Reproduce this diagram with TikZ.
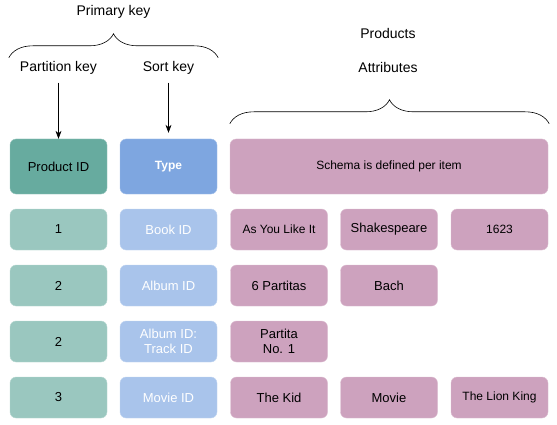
\documentclass[tikz,border=0pt]{standalone}
\usepackage{fontspec}
\setmainfont{Liberation Sans}
\usetikzlibrary{arrows.meta,calc,positioning,decorations.pathreplacing}

\definecolor{pkhead}{HTML}{67AB9F}
\definecolor{pkcell}{HTML}{9AC7BF}
\definecolor{skhead}{HTML}{7EA6E0}
\definecolor{skcell}{HTML}{A9C4EB}
\definecolor{attrcell}{HTML}{CDA2BE}

\begin{document}
\begin{tikzpicture}[
    x=1pt, y=-1pt,
    >=Stealth,
    cell/.style  = {rounded corners=6pt, minimum width=97pt, minimum height=41pt,
                    align=center, inner sep=2pt, font=\fontsize{13}{15}\selectfont},
    small/.style = {font=\fontsize{12}{14}\selectfont},
    pkhd/.style  = {cell, fill=pkhead, draw=pkhead!70!white, minimum height=55pt},
    pkrow/.style = {cell, fill=pkcell, draw=pkcell!70!white},
    skhd/.style  = {cell, fill=skhead, draw=skhead!70!white, minimum height=55pt,
                    text=white, font=\fontsize{12}{14}\selectfont\bfseries},
    skrow/.style = {cell, fill=skcell, draw=skcell!70!white, text=white},
    attr/.style  = {cell, fill=attrcell, draw=attrcell!70!white},
    lbl/.style   = {font=\fontsize{14}{17}\selectfont, inner sep=1pt},
    brc/.style   = {decorate, decoration={brace, amplitude=24pt}, semithick},
    keyarr/.style = {semithick, ->, >={Stealth[length=8pt,width=6pt]}}
  ]

  \useasboundingbox (0,0) rectangle (557,425);

  \coordinate (origin) at (0,0);

  % header row
  \node[pkhd] (PID) at ($(origin)+( 58.5,166.5)$) {Product ID};
  \node[skhd] (TYP) at ($(PID)+(110,0)$) {Type};
  \node[attr, small, minimum width=318pt, minimum height=55pt] (SCH) at ($(PID)+(330.5,0)$) {Schema is defined per item};

  % key columns
  \foreach \i/\p/\s in {1/1/{Book ID}, 2/2/{Album ID}, 3/2/{Album ID:\\Track ID}, 4/3/{Movie ID}} {
    \node[pkrow] (P\i) at ($(PID)+(0,{7+56*\i})$) {\p};
    \node[skrow] (T\i) at ($(TYP)+(0,{7+56*\i})$) {\s};
  }

  % attributes
  \node[attr, small] (A1a) at ($(T1)+(110.5,0)$) {As You Like It};
  \node[attr] (A1b) at ($(T1)+(220.5,0)$) {Shakespeare};
  \node[attr, small] (A1c) at ($(T1)+(331,0)$)   {1623};
  \node[attr] (A2a) at ($(T2)+(110.5,0)$) {6 Partitas};
  \node[attr] (A2b) at ($(T2)+(220.5,0)$) {Bach};
  \node[attr] (A3a) at ($(T3)+(110.5,0)$) {Partita\\No. 1};
  \node[attr] (A4a) at ($(T4)+(110.5,0)$) {The Kid};
  \node[attr] (A4b) at ($(T4)+(220.5,0)$) {Movie};
  \node[attr, small] (A4c) at ($(T4)+(331,0)$)   {The Lion King};

  % labels
  \node[lbl] (PK)   at ($(origin)+(113.5,12)$) {Primary key};
  \node[lbl] (PART) at ($(PID)+(0,-98.5)$)     {Partition key};
  \node[lbl] (SORT) at ($(TYP)+(0,-98.5)$)     {Sort key};
  \node[lbl] (PROD) at ($(origin)+(388,33)$)   {Products};
  \node[lbl] (ATTR) at ($(origin)+(388,67)$)   {Attributes};

  % braces
  \draw[brc] ($(PID.north west)+(-1,-81)$) -- ($(TYP.north east)+(1,-81)$);
  \draw[brc] ($(SCH.north west)+(0,-15)$) -- ($(SCH.north east)+(1,-15)$);

  % arrows
  \draw[keyarr] (PART.south) ++(0,7) coordinate (pa) (pa) -- (PID.north);
  \draw[keyarr] (SORT.south) ++(0,7) coordinate (sa) (sa) -- ($(TYP.north)+(0,-6)$);

\end{tikzpicture}
\end{document}
